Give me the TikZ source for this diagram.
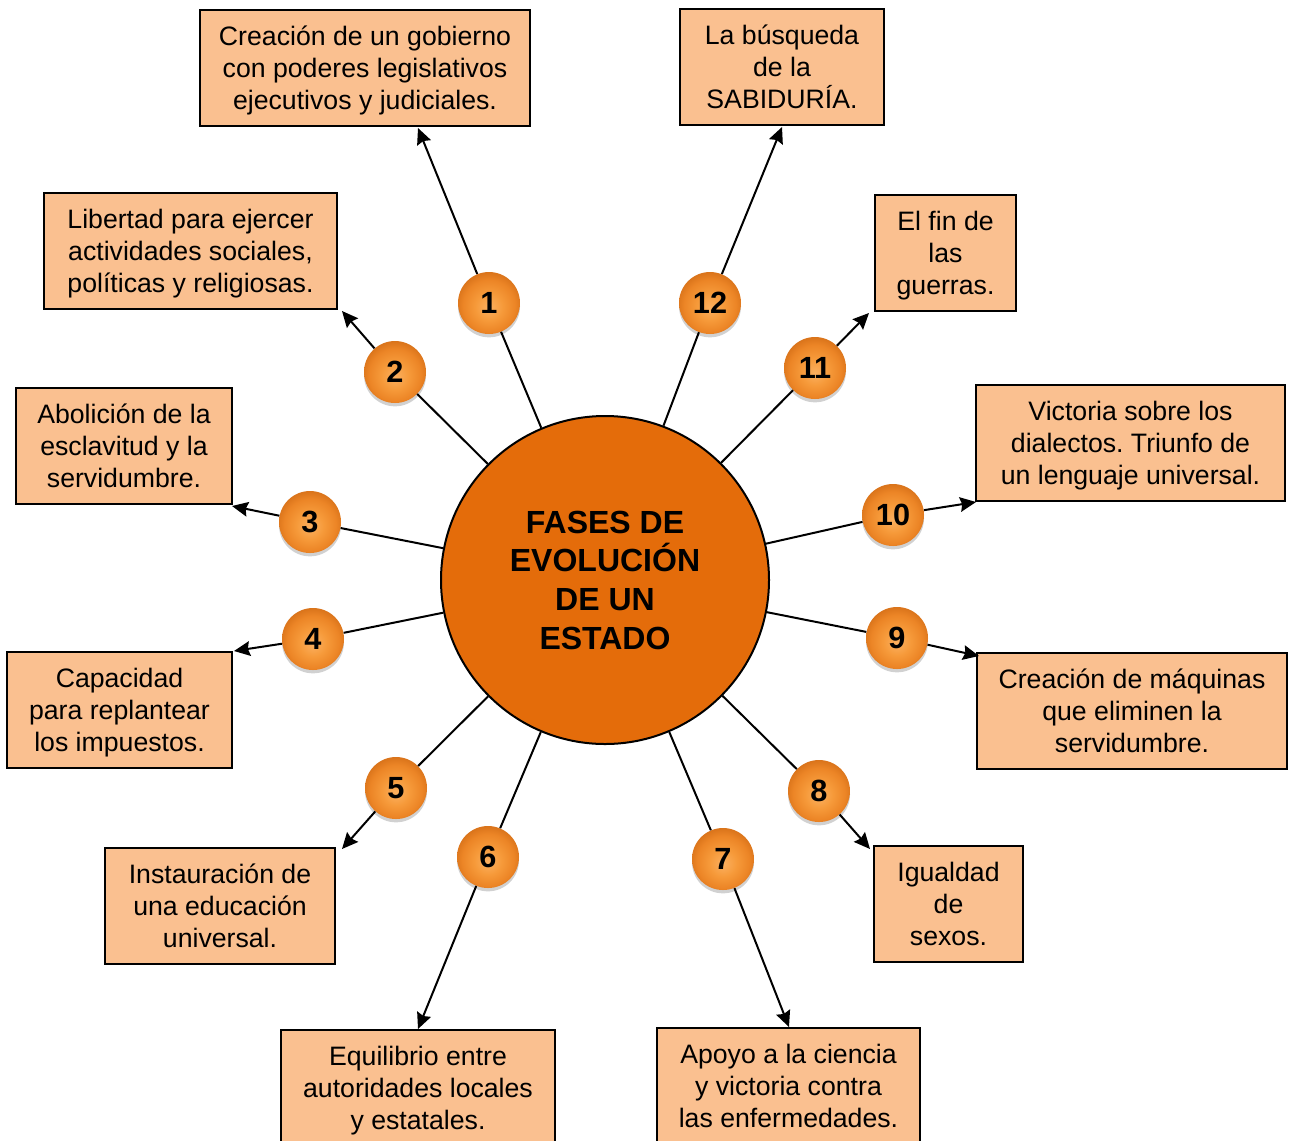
\documentclass[tikz,border=0pt]{standalone}
\usepackage{fontspec}
\setmainfont{Liberation Sans}
\frenchspacing
\usetikzlibrary{arrows.meta,shadows}
\definecolor{hub}{HTML}{E46C0A}
\definecolor{boxfill}{HTML}{FAC090}
\definecolor{orbA}{HTML}{FBB060}
\definecolor{orbB}{HTML}{F69A3A}
\definecolor{orbC}{HTML}{EC8526}
\definecolor{orbD}{HTML}{D9731A}
\pgfdeclareradialshading{orb}{\pgfpoint{0bp}{-4bp}}{color(0bp)=(orbA); color(11bp)=(orbB); color(21bp)=(orbC); color(27bp)=(orbD); color(50bp)=(orbD)}
\tikzset{
  box/.style={draw=black, line width=1.5pt, fill=boxfill, align=center, inner sep=0pt,
    minimum height=87pt, text height=62.8pt, text depth=0pt, font=\fontsize{20}{24}\selectfont},
  num/.style={circle, minimum size=46.5pt, inner sep=0pt, shading=orb,
    drop shadow={opacity=0.3, shadow xshift=0pt, shadow yshift=-2.5pt, fill=black!60},
    font=\bfseries\fontsize{23}{23}\selectfont},
  hubnode/.style={circle, draw=black, line width=1.5pt, fill=hub, minimum size=246pt,
    inner sep=0pt, align=center, font=\bfseries\fontsize{24}{29}\selectfont},
  link/.style={line width=1.5pt},
  arr/.style={line width=1.5pt, -{Stealth[length=12pt,width=11pt,inset=1.5pt]}}
}
\begin{document}
\begin{tikzpicture}[x=0.75pt,y=-0.75pt]
\useasboundingbox (0,0) rectangle (1295,1140);
% hub
\node[hubnode] (c) at (605,580) {FASES DE\\EVOLUCIÓN\\DE UN\\ESTADO};
% boxes
\node[box, minimum width=247.5pt] (b1) at (365,68) {Creación de un gobierno\\con poderes legislativos\\ejecutivos y judiciales.};
\node[box, minimum width=153pt] (b12) at (782,66.5) {La búsqueda\\de la\\SABIDURÍA.};
\node[box, minimum width=219.75pt] (b2) at (190.5,251) {Libertad para ejercer\\actividades sociales,\\políticas y religiosas.};
\node[box, minimum width=105.75pt] (b11) at (945.5,253) {El fin de\\las\\guerras.};
\node[box, minimum width=162pt] (b3) at (124,446) {Abolición de la\\esclavitud y la\\servidumbre.};
\node[box, minimum width=231.75pt] (b10) at (1130.5,443) {Victoria sobre los\\dialectos. Triunfo de\\un lenguaje universal.};
\node[box, minimum width=168.75pt] (b4) at (119.5,710) {Capacidad\\para replantear\\los impuestos.};
\node[box, minimum width=232.5pt] (b9) at (1132,711) {Creación de máquinas\\que eliminen la\\servidumbre.};
\node[box, minimum width=172.5pt] (b5) at (220,906) {Instauración de\\una educación\\universal.};
\node[box, minimum width=111.75pt] (b8) at (948.5,904) {Igualdad\\de\\sexos.};
\node[box, minimum width=205.5pt] (b6) at (418,1088) {Equilibrio entre\\autoridades locales\\y estatales.};
\node[box, minimum width=197.25pt] (b7) at (788.5,1086) {Apoyo a la ciencia\\y victoria contra\\las enfermedades.};
% number balls
\node[num] (n1) at (489,303) {1};
\node[num] (n12) at (710,303) {12};
\node[num] (n2) at (395,372) {2};
\node[num] (n11) at (815,368) {11};
\node[num] (n3) at (310,522) {3};
\node[num] (n10) at (893,515) {10};
\node[num] (n4) at (313,639) {4};
\node[num] (n9) at (897,638) {9};
\node[num] (n5) at (396,788) {5};
\node[num] (n8) at (819,791) {8};
\node[num] (n6) at (488,857) {6};
\node[num] (n7) at (723,859) {7};
% arrow tips
\coordinate (t1) at (418,128);
\coordinate (t12) at (782,127);
\coordinate (t2) at (342,311);
\coordinate (t11) at (869,313);
\coordinate (t3) at (232,506);
\coordinate (t10) at (976,502);
\coordinate (t4) at (234,651);
\coordinate (t9) at (979,656);
\coordinate (t5) at (342,849);
\coordinate (t8) at (870,849);
\coordinate (t6) at (418,1029);
\coordinate (t7) at (789,1027);
% connectors
\foreach \i in {1,...,12}{
  \draw[link] (c) -- (n\i);
  \draw[arr] (n\i) -- (t\i);
}
\end{tikzpicture}
\end{document}
